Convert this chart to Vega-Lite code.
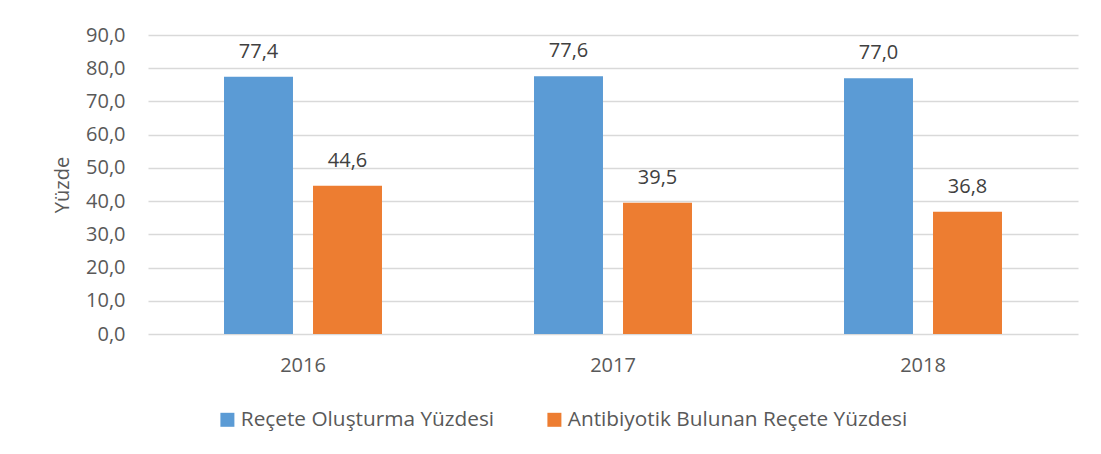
{
  "$schema": "https://vega.github.io/schema/vega-lite/v6.json",
  "width": 930,
  "height": 299,
  "autosize": {"type": "none"},
  "padding": {"left": 148, "top": 35, "right": 23, "bottom": 120},
  "background": "white",
  "config": {
    "locale": {"number": {"decimal": ",", "thousands": ".", "grouping": [3], "currency": ["", " ₺"]}},
    "view": {"stroke": null},
    "font": "Open Sans",
    "axis": {"labelFont": "Open Sans", "titleFont": "Open Sans"}
  },
  "data": {
    "values": [
      {"yil": "2016", "seri": "Reçete Oluşturma Yüzdesi", "deger": 77.4},
      {"yil": "2016", "seri": "Antibiyotik Bulunan Reçete Yüzdesi", "deger": 44.6},
      {"yil": "2017", "seri": "Reçete Oluşturma Yüzdesi", "deger": 77.6},
      {"yil": "2017", "seri": "Antibiyotik Bulunan Reçete Yüzdesi", "deger": 39.5},
      {"yil": "2018", "seri": "Reçete Oluşturma Yüzdesi", "deger": 77.0},
      {"yil": "2018", "seri": "Antibiyotik Bulunan Reçete Yüzdesi", "deger": 36.8}
    ]
  },
  "encoding": {
    "x": {
      "field": "yil", "type": "nominal",
      "scale": {"paddingInner": 0, "paddingOuter": 0},
      "axis": {"title": null, "labelAngle": 0, "labelFontSize": 20, "labelColor": "#595959", "labelPadding": 21, "domain": false, "ticks": false, "grid": false}
    },
    "xOffset": {
      "field": "seri", "type": "nominal",
      "sort": ["Reçete Oluşturma Yüzdesi", "Antibiyotik Bulunan Reçete Yüzdesi"],
      "scale": {"paddingInner": 0.225, "paddingOuter": 0.854}
    },
    "y": {
      "field": "deger", "type": "quantitative",
      "scale": {"domain": [0, 90]},
      "axis": {"title": "Yüzde", "titleFontSize": 20, "titleFontWeight": "normal", "titleColor": "#595959", "titlePadding": 13,
               "values": [0, 10, 20, 30, 40, 50, 60, 70, 80, 90], "format": ".1f",
               "labelFontSize": 20, "labelColor": "#595959", "labelPadding": 23,
               "domain": false, "ticks": false, "gridColor": "#D9D9D9", "gridWidth": 1.5}
    }
  },
  "layer": [
    {
      "mark": {"type": "bar"},
      "encoding": {
        "color": {
          "field": "seri", "type": "nominal",
          "sort": ["Reçete Oluşturma Yüzdesi", "Antibiyotik Bulunan Reçete Yüzdesi"],
          "scale": {"range": ["#5B9BD5", "#ED7D31"]},
          "legend": {"title": null, "orient": "none", "legendX": 69, "legendY": 374, "direction": "horizontal",
                     "symbolType": "square", "symbolSize": 196, "symbolOpacity": 1, "symbolStrokeWidth": 0,
                     "labelFontSize": 20.8, "labelColor": "#595959", "labelFont": "Open Sans", "columnPadding": 49, "labelOffset": 3, "labelLimit": 500}
        }
      }
    },
    {
      "mark": {"type": "text", "baseline": "alphabetic", "dy": -19, "fontSize": 20, "color": "#404040"},
      "encoding": {
        "text": {"field": "deger", "type": "quantitative", "format": ".1f"}
      }
    }
  ]
}
